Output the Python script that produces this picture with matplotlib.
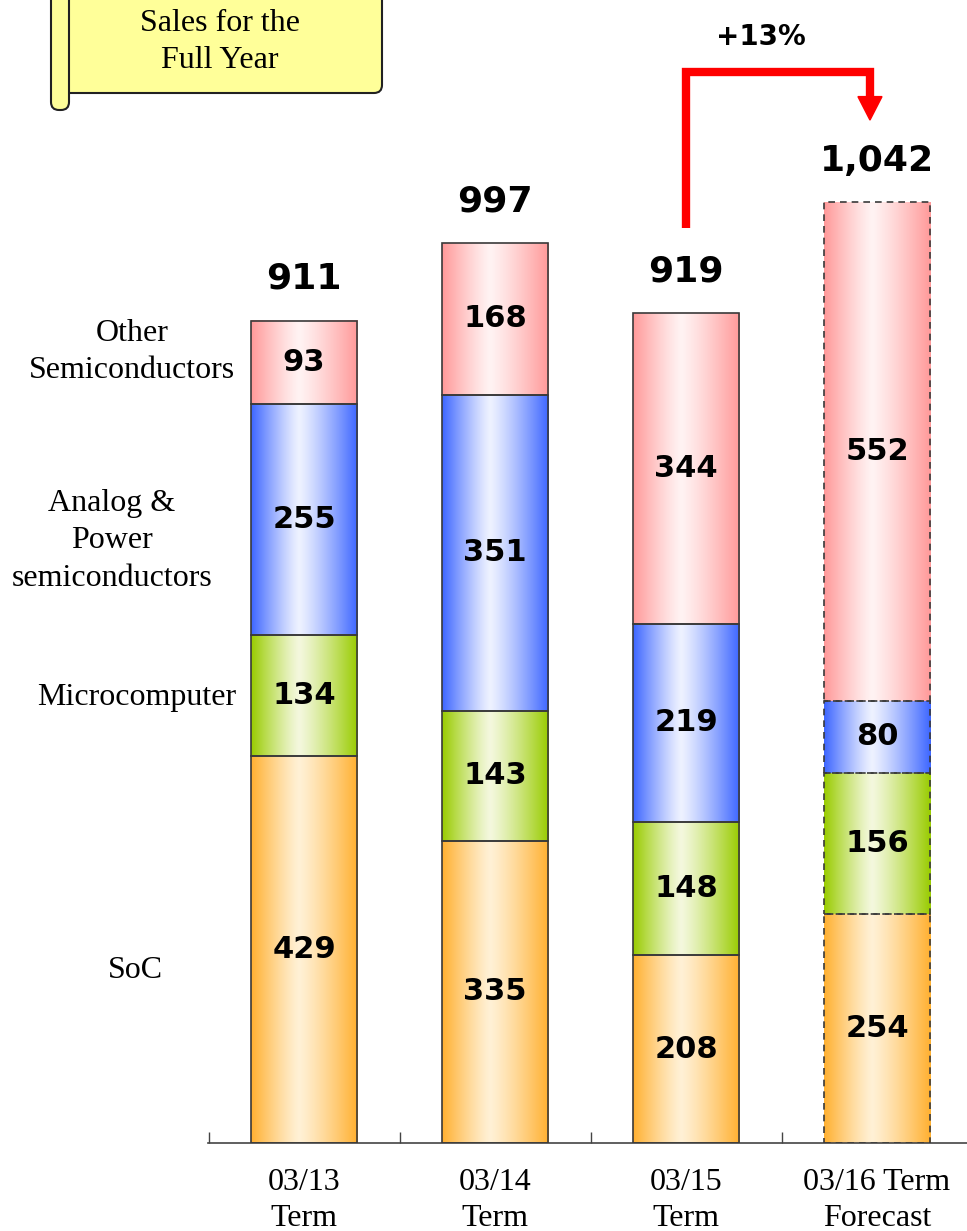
import numpy as np
import matplotlib
matplotlib.use("Agg")
import matplotlib.pyplot as plt
from matplotlib.patches import Rectangle, FancyBboxPatch, Polygon

# ---------------------------- data ----------------------------
terms = ["03/13\nTerm", "03/14\nTerm", "03/15\nTerm", "03/16 Term\nForecast"]
segments = ["SoC", "Microcomputer", "Analog &\nPower\nsemiconductors", "Other\nSemiconductors"]
soc = [429, 335, 208, 254]
micro = [134, 143, 148, 156]
analog = [255, 351, 219, 80]
other = [93, 168, 344, 552]
totals_text = ["911", "997", "919", "1,042"]
growth_text = "+13%"

# edge colour / centre colour of each gradient fill
edge_cols = ["#ffb030", "#99cc00", "#3d66ff", "#ff9999"]
mid_cols = ["#fff1d6", "#f4f8de", "#eef2ff", "#fff3f3"]

series = [soc, micro, analog, other]

# ---------------------------- figure ----------------------------
fig = plt.figure(figsize=(9.67, 12.31), dpi=100)

# scroll banner title (drawn in pixel coordinates)
deco = fig.add_axes([0, 0, 1, 1])
deco.set_xlim(0, 967)
deco.set_ylim(1231, 0)
deco.axis("off")
deco.add_patch(FancyBboxPatch((62, -20), 320, 113, boxstyle="round,pad=0,rounding_size=8",
                              facecolor="#ffff99", edgecolor="#222222", linewidth=1.5))
deco.add_patch(FancyBboxPatch((51, -20), 18, 130, boxstyle="round,pad=0,rounding_size=8",
                              facecolor="#ffff99", edgecolor="#222222", linewidth=1.5))
deco.text(220, 42, "Sales for the\nFull Year", ha="center", va="center", fontsize=23,
          family="Liberation Serif", linespacing=1.38)

ax = fig.add_axes([208 / 967, 88 / 1231, 759 / 967, 1143 / 1231])
ax.patch.set_alpha(0)
ax.set_xlim(-0.503, 3.471)
ax.set_ylim(0, 1266)
for s in ["top", "right", "left"]:
    ax.spines[s].set_visible(False)
ax.spines["bottom"].set_color("#444444")
ax.spines["bottom"].set_linewidth(1.2)
ax.set_yticks([])
ax.set_xticks([-0.5, 0.5, 1.5, 2.5])
ax.set_xticklabels([])
ax.tick_params(axis="x", direction="in", length=8, color="#444444", width=1)

width = 0.555


def gradient(c_edge, c_mid, n=200):
    t = np.linspace(0, 1, n)
    w = np.where(t < 0.45, (0.45 - t) / 0.45, (t - 0.45) / 0.55)
    w = np.clip(w, 0, 1) ** 1.2
    e = np.array(matplotlib.colors.to_rgb(c_edge))
    m = np.array(matplotlib.colors.to_rgb(c_mid))
    row = m[None, :] + (e - m)[None, :] * w[:, None]
    return row[None, :, :]


for i in range(len(terms)):
    bottom = 0
    dashed = i == 3
    for k, vals in enumerate(series):
        v = vals[i]
        x0, x1 = i - width / 2, i + width / 2
        ax.imshow(gradient(edge_cols[k], mid_cols[k]), extent=[x0, x1, bottom, bottom + v],
                  aspect="auto", interpolation="bilinear", zorder=2)
        ax.add_patch(Rectangle((x0, bottom), width, v, fill=False,
                               edgecolor="#3a3a3a",
                               linewidth=1.2, linestyle=(0, (4, 3)) if dashed else "-", zorder=3))
        ax.text(i, bottom + v / 2, str(v), ha="center", va="center", fontsize=22,
                fontweight="bold", family="DejaVu Sans", zorder=4)
        bottom += v
    ax.annotate(totals_text[i], (i, bottom), xytext=(0, 30), textcoords="offset points",
                ha="center", va="center", fontsize=26, fontweight="bold",
                family="DejaVu Sans", annotation_clip=False)

# growth arrow from 03/15 to forecast
ax.plot([2, 2, 2.963, 2.963], [1013, 1186, 1186, 1156], color="red", linewidth=6,
        solid_joinstyle="miter", solid_capstyle="butt", clip_on=False, zorder=5)
ax.add_patch(Polygon([[2.9, 1159], [3.026, 1159], [2.963, 1133]], closed=True,
                     color="red", zorder=5, clip_on=False))
ax.text(2.39, 1225, growth_text, ha="center", va="center", fontsize=20,
        fontweight="bold", family="DejaVu Sans")

# category labels under the axis
for i, t in enumerate(terms):
    ax.text(i, -64, t, ha="center", va="center", fontsize=23, family="Liberation Serif",
            linespacing=1.3)

# segment names on the left
name_pos = [(135, 970), (137, 698), (112, 541), (132, 352)]
for name, (px, py) in zip(segments, name_pos):
    fig.text(px / 967, 1 - py / 1231, name, ha="center", va="center", fontsize=23,
             family="Liberation Serif", linespacing=1.38)

fig.savefig("out.png", dpi=100)
